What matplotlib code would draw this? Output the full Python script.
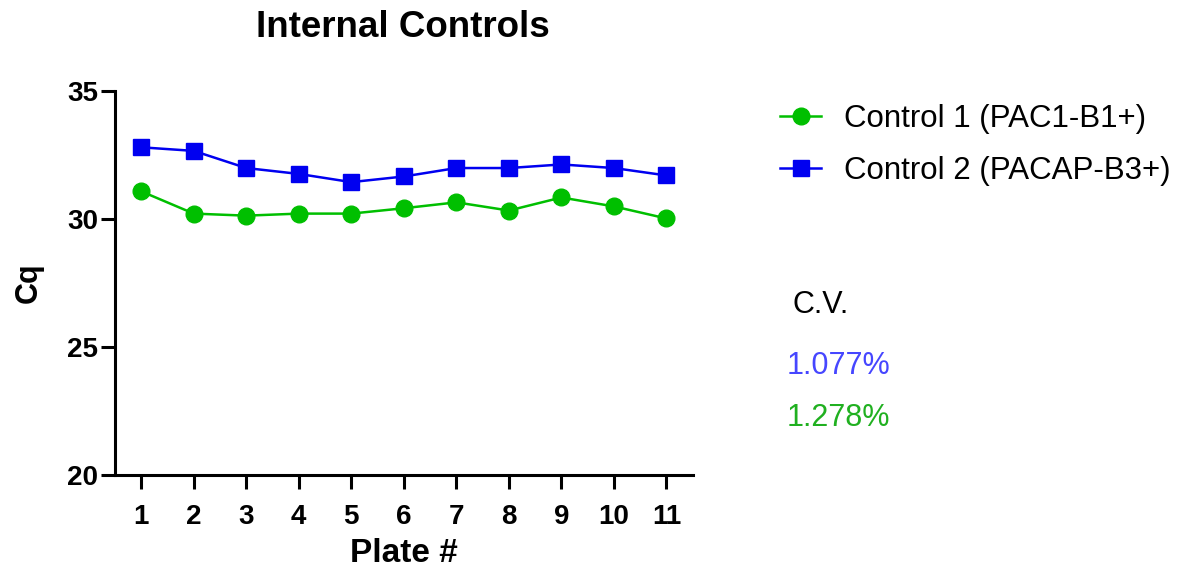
import matplotlib.pyplot as plt
import numpy as np

plt.rcParams['font.family'] = ['Liberation Sans', 'DejaVu Sans']

# data
plates = [1, 2, 3, 4, 5, 6, 7, 8, 9, 10, 11]
control1 = [31.08, 30.21, 30.13, 30.21, 30.21, 30.42, 30.65, 30.33, 30.84, 30.49, 30.02]
control2 = [32.80, 32.66, 31.99, 31.76, 31.44, 31.66, 31.99, 31.99, 32.13, 31.99, 31.70]
label1 = 'Control 1 (PAC1-B1+)'
label2 = 'Control 2 (PACAP-B3+)'
cv_blue = '1.077%'
cv_green = '1.278%'

green = '#00BF00'
blue = '#0000F0'

fig = plt.figure(figsize=(11.84, 5.74), dpi=100)
ax = fig.add_axes([0.0971, 0.1725, 0.488, 0.669])

ax.plot(plates, control1, color=green, lw=1.8, marker='o', ms=12, label=label1)
ax.plot(plates, control2, color=blue, lw=1.8, marker='s', ms=12, label=label2)

ax.set_xlim(0.5, 11.5)
ax.set_ylim(20, 35)
ax.set_xticks(plates)
ax.set_yticks([20, 25, 30, 35])

for s in ['top', 'right']:
    ax.spines[s].set_visible(False)
for s in ['left', 'bottom']:
    ax.spines[s].set_linewidth(2.2)
ax.tick_params(width=2.2, length=10, labelsize=20)
ax.tick_params(axis='x', pad=11)
ax.tick_params(axis='y', pad=2)
for t in ax.get_xticklabels() + ax.get_yticklabels():
    t.set_fontweight('bold')

ax.set_xlabel('Plate #', fontsize=24, fontweight='bold', labelpad=6)
ax.set_ylabel('Cq', fontsize=22, fontweight='bold', labelpad=17)
fig.text(0.34, 0.952, 'Internal Controls', fontsize=26.5, fontweight='bold',
         ha='center', va='center')

ax.legend(loc='upper left', bbox_to_anchor=(0.638, 0.862), bbox_transform=fig.transFigure,
          frameon=False, fontsize=22.5, handlelength=1.3, labelspacing=0.7, handletextpad=0.75,
          borderpad=0.3)

fig.text(0.669, 0.468, 'C.V.', fontsize=22, color='black', va='center')
fig.text(0.664, 0.362, cv_blue, fontsize=22, color='#4646FF', va='center')
fig.text(0.664, 0.272, cv_green, fontsize=22, color='#20B020', va='center')

fig.savefig('out.png', dpi=100)
